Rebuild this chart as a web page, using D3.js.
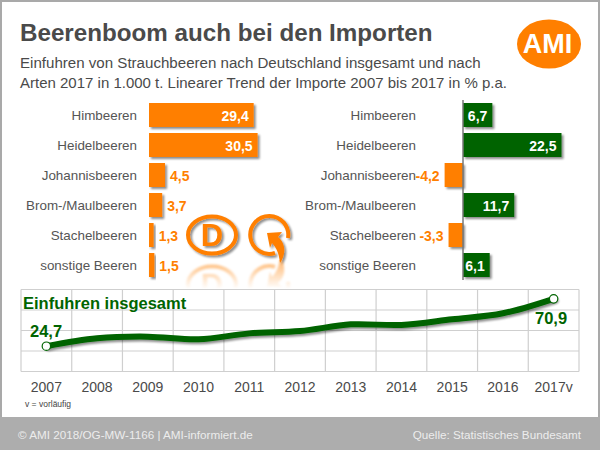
<!DOCTYPE html>
<html lang="de">
<head>
  <meta charset="UTF-8" />
  <title>Beerenboom auch bei den Importen</title>
  <script src="https://cdnjs.cloudflare.com/ajax/libs/d3/7.8.2/d3.min.js"></script>
  <style>
    body { margin: 0; padding: 0; background: #fff; }
    svg { display: block; font-family: "Liberation Sans", Arial, sans-serif; }
    .cat { font-size: 13.4px; fill: #555; text-anchor: end; }
    .val { font-size: 14px; font-weight: bold; }
    .year { font-size: 14px; fill: #4a4a4a; text-anchor: middle; }
    .grid line { stroke: #cfcfcf; stroke-width: 1.2px; }
  </style>
</head>
<body>
<svg id="chart" width="600" height="450">
  <defs>
    <filter id="shadow" x="-20%" y="-20%" width="150%" height="150%">
      <feGaussianBlur in="SourceAlpha" stdDeviation="0.8" result="blur"/>
      <feOffset in="blur" dx="1.5" dy="1.5" result="off"/>
      <feComponentTransfer in="off" result="soft"><feFuncA type="linear" slope="0.45"/></feComponentTransfer>
      <feMerge><feMergeNode in="soft"/><feMergeNode in="SourceGraphic"/></feMerge>
    </filter>
    <linearGradient id="fade" x1="0" y1="0" x2="0" y2="1">
      <stop offset="0%" stop-color="#fff" stop-opacity="0.55"/>
      <stop offset="100%" stop-color="#fff" stop-opacity="0"/>
    </linearGradient>
    <mask id="reflectMask" maskUnits="userSpaceOnUse" x="180" y="260" width="130" height="29">
      <rect x="180" y="260" width="130" height="29" fill="url(#fade)"/>
    </mask>
    <g id="icons">
      <ellipse cx="212" cy="235" rx="24" ry="18.5" fill="none" stroke="#ff7f00" stroke-width="4"/>
      <text x="212" y="246" text-anchor="middle" font-size="31" font-weight="bold" fill="#ff7f00">D</text>
      <path d="M275 253 A19 19 0 1 1 288 238" fill="none" stroke="#ff7f00" stroke-width="4"/>
      <path d="M267 233 L282 232 L278 237 C286 243 286 255 280 263 C279 254 277 248 272 243 L270 248 Z" fill="#ff7f00"/>
    </g>
  </defs>
</svg>

<script>
/* data */
const categories = ["Himbeeren", "Heidelbeeren", "Johannisbeeren", "Brom-/Maulbeeren", "Stachelbeeren", "sonstige Beeren"];
const imports2017 = [29.4, 30.5, 4.5, 3.7, 1.3, 1.5];
const trend = [6.7, 22.5, -4.2, 11.7, -3.3, 6.1];
const years = ["2007", "2008", "2009", "2010", "2011", "2012", "2013", "2014", "2015", "2016", "2017v"];
const totals = [24.7, 32.4, 34, 31.4, 37.2, 39.5, 46, 45.4, 50.9, 56.8, 70.9];
const gridTicks = [0, 20, 40, 60, 80];

const ORANGE = "#ff7f00";
const GREEN = "#006400";
const fmt = v => String(v).replace(".", ",");
const svg = d3.select("#chart");

// frame + footer
svg.append("rect").attr("x", 1).attr("y", 1).attr("width", 598).attr("height", 448)
  .attr("fill", "none").attr("stroke", "#a9a9a9").attr("stroke-width", 2);
svg.append("rect").attr("x", 0).attr("y", 417).attr("width", 600).attr("height", 33).attr("fill", "#adadad");
svg.append("text").attr("x", 18).attr("y", 439).attr("font-size", 11.7).attr("fill", "#ececec")
  .text("© AMI 2018/OG-MW-1166 | AMI-informiert.de");
svg.append("text").attr("x", 581).attr("y", 439).attr("text-anchor", "end").attr("font-size", 11.7).attr("fill", "#ececec")
  .text("Quelle: Statistisches Bundesamt");

// title
svg.append("text").attr("x", 20).attr("y", 41).attr("font-size", 24.2).attr("font-weight", "bold").attr("fill", "#4a4a4a")
  .text("Beerenboom auch bei den Importen");
svg.append("text").attr("x", 20).attr("y", 68).attr("font-size", 15.1).attr("fill", "#4a4a4a")
  .text("Einfuhren von Strauchbeeren nach Deutschland insgesamt und nach");
svg.append("text").attr("x", 20).attr("y", 88).attr("font-size", 15).attr("fill", "#4a4a4a")
  .text("Arten 2017 in 1.000 t. Linearer Trend der Importe 2007 bis 2017 in % p.a.");

// logo
svg.append("ellipse").attr("cx", 549).attr("cy", 44).attr("rx", 32).attr("ry", 24.5).attr("fill", ORANGE);
svg.append("text").attr("x", 547.5).attr("y", 53).attr("text-anchor", "middle")
  .attr("font-size", 27).attr("font-weight", "bold").attr("fill", "#fff").text("AMI");

// rows shared by both bar panels
const y = d3.scaleBand().domain(categories).range([100, 280]).paddingInner(0.2).paddingOuter(0.1);

/* left panel: imports 2017 */
const xLeft = d3.scaleLinear().domain([0, 30.5]).range([149, 257.6]);

const left = svg.append("g");
left.selectAll(".cat").data(categories).join("text")
  .attr("class", "cat").attr("x", 137).attr("y", d => y(d) + y.bandwidth() / 2 + 5).text(d => d);
left.selectAll("rect").data(imports2017).join("rect")
  .attr("x", xLeft(0)).attr("y", (d, i) => y(categories[i]))
  .attr("width", d => xLeft(d) - xLeft(0)).attr("height", y.bandwidth())
  .attr("fill", ORANGE).attr("filter", "url(#shadow)");
left.selectAll(".val").data(imports2017).join("text")
  .attr("class", "val")
  .attr("x", d => d > 10 ? xLeft(d) - 5 : xLeft(d) + 5)
  .attr("y", (d, i) => y(categories[i]) + y.bandwidth() / 2 + 5.5)
  .attr("text-anchor", d => d > 10 ? "end" : "start")
  .attr("fill", d => d > 10 ? "#fff" : ORANGE)
  .text(fmt);

/* right panel: linear trend */
const xRight = d3.scaleLinear().domain([0, 22.5]).range([463, 561.5]);

const right = svg.append("g");
right.selectAll(".cat").data(categories).join("text")
  .attr("class", "cat").attr("x", 416).attr("y", d => y(d) + y.bandwidth() / 2 + 5).text(d => d);
right.selectAll("rect").data(trend).join("rect")
  .attr("x", d => Math.min(xRight(0), xRight(d))).attr("y", (d, i) => y(categories[i]))
  .attr("width", d => Math.abs(xRight(d) - xRight(0))).attr("height", y.bandwidth())
  .attr("fill", d => d < 0 ? ORANGE : GREEN).attr("filter", "url(#shadow)");
right.append("line").attr("x1", xRight(0)).attr("x2", xRight(0)).attr("y1", 100).attr("y2", 280)
  .attr("stroke", "#777").attr("stroke-width", 1.5);
right.selectAll(".val").data(trend).join("text")
  .attr("class", "val")
  .attr("x", d => xRight(d) - 5)
  .attr("y", (d, i) => y(categories[i]) + y.bandwidth() / 2 + 5.5)
  .attr("text-anchor", "end")
  .attr("fill", d => d < 0 ? ORANGE : "#fff")
  .text(fmt);

// D / trend icons with their reflection
svg.append("use").attr("href", "#icons").attr("filter", "url(#shadow)");
svg.append("g").attr("mask", "url(#reflectMask)").style("filter", "blur(1px)")
  .append("use").attr("href", "#icons").attr("transform", "translate(0,520) scale(1,-1)");

/* bottom panel: total imports */
const xYear = d3.scaleBand().domain(years).range([21, 579]);
const yTotal = d3.scaleLinear().domain([0, 80]).range([371.5, 289.5]);
const xPos = d => xYear(d) + xYear.bandwidth() / 2;

const grid = svg.append("g").attr("class", "grid");
grid.selectAll(".h").data(gridTicks).join("line").attr("class", "h")
  .attr("x1", 21).attr("x2", 579).attr("y1", d => yTotal(d)).attr("y2", d => yTotal(d));
grid.selectAll(".v").data(years.map(d => xYear(d)).concat(579)).join("line").attr("class", "v")
  .attr("x1", d => d).attr("x2", d => d).attr("y1", yTotal(80)).attr("y2", yTotal(0));

svg.selectAll(".year").data(years).join("text")
  .attr("class", "year").attr("x", xPos).attr("y", 392).text(d => d);

const line = d3.line().x((d, i) => xPos(years[i])).y(d => yTotal(d)).curve(d3.curveCatmullRom.alpha(0.5));
svg.append("path").datum(totals).attr("d", line)
  .attr("fill", "none").attr("stroke", GREEN).attr("stroke-width", 6)
  .attr("stroke-linecap", "round").attr("filter", "url(#shadow)");

[0, totals.length - 1].forEach(i => {
  svg.append("circle").attr("cx", xPos(years[i])).attr("cy", yTotal(totals[i])).attr("r", 4.2)
    .attr("fill", "#fff").attr("stroke", GREEN).attr("stroke-width", 1.2);
});

svg.append("text").attr("x", 23).attr("y", 309).attr("font-size", 16.5).attr("font-weight", "bold").attr("fill", GREEN)
  .text("Einfuhren insgesamt");
svg.append("text").attr("x", 30).attr("y", 337).attr("font-size", 16.5).attr("font-weight", "bold").attr("fill", GREEN)
  .text(fmt(totals[0]));
svg.append("text").attr("x", 535).attr("y", 324).attr("font-size", 16.5).attr("font-weight", "bold").attr("fill", GREEN)
  .text(fmt(totals[totals.length - 1]));
svg.append("text").attr("x", 25).attr("y", 407).attr("font-size", 8.5).attr("fill", "#444").text("v = vorläufig");
</script>
</body>
</html>
